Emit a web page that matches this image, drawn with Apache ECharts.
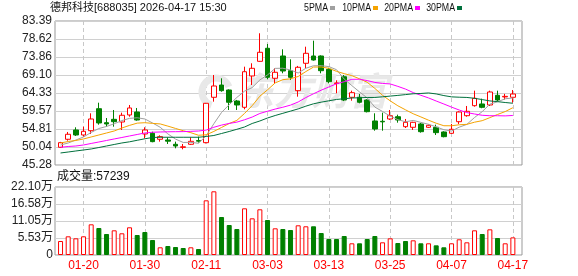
<!DOCTYPE html>
<html>
<head>
<meta charset="utf-8">
<script src="https://cdn.jsdelivr.net/npm/echarts@6.0.0/dist/echarts.min.js"></script>
<style>
html, body { margin: 0; padding: 0; background: #fff; }
#main { width: 578px; height: 276px; }
</style>
</head>
<body>
<div id="main"></div>
<script>
// 德邦科技 日K + 均线 + 成交量
let dates = ['01-15','01-16','01-19','01-20','01-21','01-22','01-23','01-26','01-27','01-28','01-29','01-30',
    '02-02','02-03','02-04','02-05','02-06','02-09','02-10','02-11','02-12','02-13',
    '02-24','02-25','02-26','02-27',
    '03-02','03-03','03-04','03-05','03-06','03-09','03-10','03-11','03-12','03-13','03-16','03-17','03-18','03-19','03-20',
    '03-23','03-24','03-25','03-26','03-27','03-30','03-31',
    '04-01','04-02','04-03','04-07','04-08','04-09','04-10','04-13','04-14','04-15','04-16','04-17'];

let open  = [49.97,52.09,54.55,53.22,54.36,60.18,56.48,57.37,56.66,58.52,59.31,53.49,53.67,52.09,51.90,50.76,49.95,50.76,51.75,51.19,
    63.20,66.45,65.13,62.22,60.55,68.84,72.72,76.17,68.23,74.13,70.24,64.95,72.20,74.13,74.13,70.61,66.85,68.65,63.20,63.20,
    62.48,56.93,56.85,57.46,58.06,55.42,55.26,56.14,55.26,55.26,54.02,53.67,56.74,58.33,60.98,61.43,61.16,63.73,63.30,63.20];
let close = [51.19,53.41,53.22,54.20,57.46,56.40,56.14,56.74,58.44,60.37,57.19,54.55,51.46,52.78,51.59,50.31,50.10,51.55,51.59,61.61,
    66.19,64.95,61.88,61.16,69.97,70.87,75.11,68.49,69.82,70.16,68.49,71.14,74.84,73.07,70.24,67.33,67.00,62.48,64.42,61.88,
    59.39,54.81,56.70,58.33,57.19,56.58,56.58,54.10,55.79,53.84,52.78,54.73,59.31,59.49,62.93,60.55,64.60,62.48,63.45,64.07];
let low   = [49.80,51.72,52.96,52.78,53.49,55.95,55.42,55.42,54.55,58.06,57.00,52.35,51.30,51.46,50.84,49.70,49.43,50.58,51.20,51.00,
    62.04,64.68,59.84,59.84,60.02,66.45,72.60,67.96,66.90,69.55,67.78,63.36,70.87,72.90,69.55,66.90,64.26,62.20,62.30,61.60,
    59.20,54.36,54.36,57.20,56.48,55.07,54.55,53.84,55.10,53.22,52.60,53.49,56.14,58.06,60.72,60.30,60.90,62.04,62.60,61.77];
let high  = [51.40,54.02,55.26,55.42,58.96,61.77,57.72,59.84,59.13,61.16,60.37,55.26,54.10,53.14,52.61,51.46,50.84,52.61,52.78,61.70,
    69.10,68.23,65.30,62.50,71.30,72.20,80.14,77.30,70.87,75.90,73.25,71.50,76.59,78.18,74.30,71.00,67.70,69.10,64.95,64.07,
    62.70,58.96,59.13,59.84,58.60,57.46,56.70,56.40,56.00,55.95,54.20,56.14,59.50,60.90,64.95,62.83,64.95,64.95,64.10,65.13];

let ma5  = [50.58,51.10,51.90,52.70,53.90,54.94,55.48,56.19,57.04,57.62,57.78,57.46,56.40,55.27,53.51,52.14,51.25,51.27,51.03,53.03,
    56.21,59.18,61.24,63.16,64.83,65.77,67.80,69.12,70.85,70.89,70.41,69.62,70.89,71.54,71.56,71.32,70.50,68.02,66.29,64.62,
    63.03,60.60,59.44,58.22,57.28,56.72,57.08,56.56,56.05,55.38,54.62,54.25,55.29,56.03,57.85,59.40,61.38,62.01,62.80,63.03];
let ma10 = [51.10,51.50,51.77,52.17,52.70,53.22,53.75,54.28,55.07,55.76,56.36,56.47,56.30,56.15,55.57,54.96,54.35,53.83,53.15,53.27,
    54.17,55.21,56.26,57.09,58.93,60.99,63.49,65.18,67.01,67.86,68.09,68.71,70.01,71.20,71.22,70.87,70.06,69.46,68.92,68.09,
    67.18,65.55,63.73,62.26,60.95,59.88,58.84,58.00,57.14,56.33,55.67,55.66,55.92,56.04,56.61,57.01,57.81,58.65,59.42,60.44];
let ma20 = [49.97,50.18,50.31,50.58,50.98,51.37,51.77,52.17,52.56,52.96,53.36,53.75,53.94,54.02,54.07,54.10,54.12,54.18,54.28,54.52,
    55.27,55.84,56.28,56.62,57.25,57.97,58.92,59.51,60.08,60.57,61.13,61.96,63.13,64.14,65.08,65.93,66.77,67.32,67.96,67.97,
    67.63,67.13,66.87,66.73,66.09,65.37,64.45,63.73,63.03,62.21,61.42,60.60,59.83,59.15,58.78,58.44,58.32,58.32,58.28,58.39];
let ma30 = [48.46,48.72,48.99,49.25,49.52,49.91,50.31,50.71,51.11,51.42,51.82,52.22,52.56,52.62,52.62,52.62,52.62,52.62,52.62,52.83,
    53.09,53.62,54.15,54.73,55.34,56.27,56.93,57.72,58.38,58.96,59.54,60.13,60.85,61.48,61.91,62.27,62.63,62.82,63.02,63.07,
    63.15,63.16,63.33,63.52,63.70,63.91,64.13,64.21,64.35,64.09,63.65,63.31,63.22,63.16,62.93,62.59,62.24,62.04,61.82,61.62];

let volume = [45500,60700,54200,60700,99700,87750,68250,80200,70500,90000,65000,74750,48750,25000,29250,26000,22750,25000,19500,177700,
    207000,123500,97500,84500,151700,119200,148500,113750,86700,84500,81250,96500,93300,93300,71500,52000,52000,61750,38000,38000,
    52000,61750,41200,54200,39000,45500,47700,38000,38000,31400,25000,38000,51000,41200,80200,68250,83400,55250,38000,57239];
// 1 = 红(涨) 0 = 绿(跌)
let volUp = [1,1,1,1,1,0,0,1,1,1,0,0,0,1,0,0,0,1,0,1,
    1,0,0,0,1,1,1,0,1,0,0,1,1,0,0,0,0,0,1,0,
    0,0,1,1,0,0,1,0,1,0,0,1,1,1,1,0,1,0,1,1];

let priceTicks = ['45.28','50.04','54.81','59.57','64.33','69.10','73.86','78.62','83.39'];
let volTicks = ['0','5.53万','11.05万','16.58万','22.10万'];
let labelDates = ['01-20','01-30','02-11','03-03','03-13','03-25','04-07','04-17'];
let maNames = ['5PMA','10PMA','20PMA','30PMA'];
let title = '德邦科技[688035] 2026-04-17 15:30';

let red = '#ff0000';
let green = '#008000';
let maColors = ['#a0a0a0','#f5a300','#ff00ff','#00703c'];
let font = '"Liberation Sans", Arial, "Noto Sans CJK SC", sans-serif';

let chart = echarts.init(document.getElementById('main'));

let candleData = dates.map(function (d, i) {
    return [open[i], close[i], low[i], high[i]];
});
let volData = volume.map(function (v, i) {
    return {
        value: v,
        itemStyle: volUp[i] ? { color: '#fff', borderColor: red, borderWidth: 1 } : { color: green, borderColor: green, borderWidth: 1 }
    };
});
let maData = [ma5, ma10, ma20, ma30];

function isLabelDate(idx, value) {
    return labelDates.indexOf(value) >= 0;
}

// 水印
let graphics = [
    {
        type: 'arc', z: 1, silent: true,
        shape: { cx: 216, cy: 92, r: 14, startAngle: 1.9, endAngle: 5.9 },
        style: { stroke: '#e8e8e8', lineWidth: 7, fill: 'none' }
    },
    {
        type: 'text', x: 236, y: 91, z: 1, silent: true,
        style: { text: '东方财富', fill: '#e8e8e8', font: 'italic bold 38px "Noto Sans CJK SC"', verticalAlign: 'middle' }
    },
    {
        type: 'text', x: 50, y: 8,
        style: { text: title, fill: '#111', font: '11px ' + font, verticalAlign: 'middle' }
    },
    {
        type: 'text', x: 57, y: 177,
        style: { text: '成交量:' + volume[volume.length - 1], fill: '#111', font: '12px ' + font, verticalAlign: 'middle' }
    }
];
let legBoxX = [330, 373, 415, 457];
maNames.forEach(function (n, i) {
    graphics.push({
        type: 'text', x: legBoxX[i] - 2, y: 8, scaleX: 0.8,
        style: { text: n, fill: '#111', font: '11px ' + font, align: 'right', verticalAlign: 'middle' }
    });
    graphics.push({
        type: 'rect', shape: { x: legBoxX[i], y: 6, width: 5, height: 4 },
        style: { fill: maColors[i] }
    });
});

let dashLine = { show: true, alignWithLabel: true, interval: isLabelDate, lineStyle: { color: '#c8c8c8', type: [4, 3], width: 1 } };

option = {
    animation: false,
    backgroundColor: '#fff',
    graphic: graphics,
    grid: [
        { left: 55, top: 21, width: 467, height: 144, show: true, borderColor: '#999', borderWidth: 1, backgroundColor: 'transparent' },
        { left: 56.7, top: 21, width: 460, height: 144 },
        { left: 55, top: 187, width: 467, height: 68, show: true, borderColor: '#999', borderWidth: 1, backgroundColor: 'transparent' },
        { left: 56.7, top: 187, width: 460, height: 68 }
    ],
    xAxis: [
        { type: 'value', gridIndex: 0, show: false, min: 0, max: 1 },
        {
            type: 'category', gridIndex: 1, data: dates, boundaryGap: true,
            axisLine: { show: false }, axisTick: { show: false }, axisLabel: { show: false },
            splitLine: dashLine
        },
        { type: 'value', gridIndex: 2, show: false, min: 0, max: 1 },
        {
            type: 'category', gridIndex: 3, data: dates, boundaryGap: true,
            axisLine: { show: false }, axisTick: { show: false },
            axisLabel: { interval: isLabelDate, color: red, fontSize: 12, fontFamily: font, margin: 5 },
            splitLine: dashLine
        }
    ],
    yAxis: [
        {
            type: 'value', gridIndex: 0, min: 0, max: priceTicks.length - 1, interval: 1,
            axisLine: { show: false }, axisTick: { show: false },
            axisLabel: { margin: 3, color: '#222', fontSize: 12, fontFamily: font, formatter: function (v, i) { return priceTicks[v]; } },
            splitLine: { lineStyle: { color: '#d0d0d0', width: 1 } }
        },
        { type: 'value', gridIndex: 1, min: 45.28, max: 83.39, show: false, splitLine: { show: false } },
        {
            type: 'value', gridIndex: 2, min: 0, max: 221000, interval: 55250,
            axisLine: { show: false }, axisTick: { show: false },
            axisLabel: { margin: 2, color: '#222', fontSize: 12, fontFamily: font, formatter: function (v, i) { return volTicks[i]; } },
            splitLine: { lineStyle: { color: '#d0d0d0', width: 1 } }
        },
        { type: 'value', gridIndex: 3, min: 0, max: 221000, show: false, splitLine: { show: false } }
    ],
    series: [
        {
            name: '日K', type: 'candlestick', xAxisIndex: 1, yAxisIndex: 1,
            data: candleData, barWidth: 5,
            itemStyle: { color: '#fff', color0: green, borderColor: red, borderColor0: green, borderWidth: 1 }
        }
    ].concat(maNames.map(function (n, i) {
        return {
            name: n, type: 'line', xAxisIndex: 1, yAxisIndex: 1,
            data: maData[i], symbol: 'none', smooth: false,
            lineStyle: { color: maColors[i], width: 1 }
        };
    })).concat([
        {
            name: '成交量', type: 'bar', xAxisIndex: 3, yAxisIndex: 3,
            data: volData, barWidth: 5
        }
    ])
};
chart.setOption(option);
</script>
</body>
</html>
